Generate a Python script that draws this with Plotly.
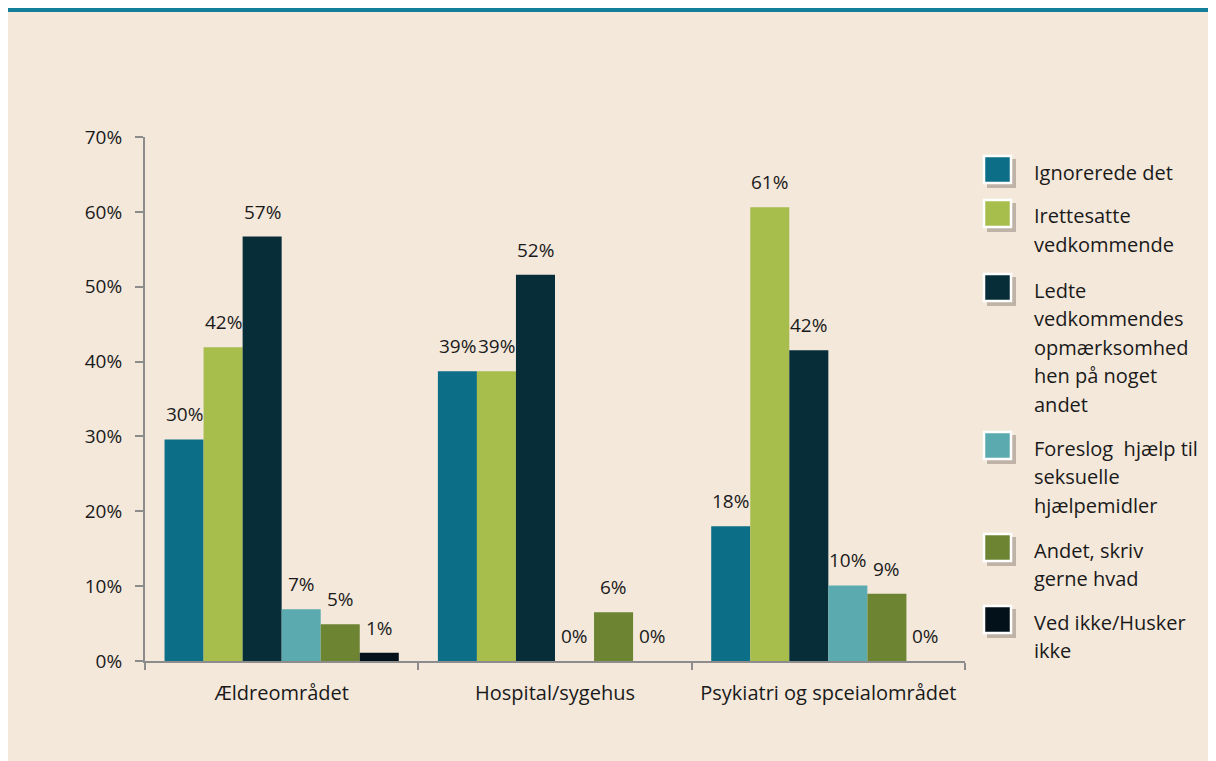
import plotly.graph_objects as go

# data
categories = ["Ældreområdet", "Hospital/sygehus", "Psykiatri og spceialområdet"]
series_names = [
    "Ignorerede det",
    "Irettesatte vedkommende",
    "Ledte vedkommendes opmærksomhed hen på noget andet",
    "Foreslog  hjælp til seksuelle hjælpemidler",
    "Andet, skriv gerne hvad",
    "Ved ikke/Husker ikke",
]
legend_lines = [
    ["Ignorerede det"],
    ["Irettesatte", "vedkommende"],
    ["Ledte", "vedkommendes", "opmærksomhed", "hen på noget", "andet"],
    ["Foreslog\u00a0 hjælp til", "seksuelle", "hjælpemidler"],
    ["Andet, skriv", "gerne hvad"],
    ["Ved ikke/Husker", "ikke"],
]
ignorerede = [0.296, 0.387, 0.180]
irettesatte = [0.419, 0.387, 0.606]
ledte = [0.567, 0.516, 0.415]
foreslog = [0.069, 0.0, 0.101]
andet = [0.049, 0.065, 0.090]
ved_ikke = [0.011, 0.0, 0.0]
values = [ignorerede, irettesatte, ledte, foreslog, andet, ved_ikke]

colors = ["#0D6E87", "#A7BD4C", "#062D38", "#5BAAB0", "#6D8533", "#03121A"]

# page body has an 8px margin; figure runs to the window edge
OFF = 8
W, H = 1216, 761
L, R, T, B = 145 - OFF, 965 - OFF, 137 - OFF, 661 - OFF
BG = "#F4E8DB"
FONT = "Open Sans"
TXT = "#1A1A1A"
BARGAP = 0.143


def px(x):
    # reference screen x -> paper
    return (x - OFF - L) / (R - L)


def py(y):
    # reference screen y -> paper
    return (B - (y - OFF)) / (B - T)


fig = go.Figure()
for name, vals, col in zip(series_names, values, colors):
    fig.add_trace(go.Bar(
        x=categories, y=vals, name=name,
        marker=dict(color=col, line=dict(width=0)),
        showlegend=False,
    ))

# data labels above each bar
n = len(values)
w = (1 - BARGAP) / n
annotations = []
for j, vals in enumerate(values):
    for i, v in enumerate(vals):
        annotations.append(dict(
            x=i + (j - (n - 1) / 2) * w, y=v, xref="x", yref="y",
            text=f"{round(v * 100):.0f}%", showarrow=False,
            yanchor="middle", yshift=25,
            font=dict(family=FONT, size=19, color=TXT),
        ))

# custom legend (squares with white frame and shadow)
shapes = []
tops = [155, 199, 273, 431, 533, 605]
for top, col, lines in zip(tops, colors, legend_lines):
    shapes.append(dict(type="rect", xref="paper", yref="paper",
                       x0=px(987), x1=px(1016), y0=py(top + 4), y1=py(top + 33),
                       fillcolor="rgba(90,80,70,0.35)", line=dict(width=0)))
    shapes.append(dict(type="rect", xref="paper", yref="paper",
                       x0=px(984), x1=px(1011), y0=py(top + 1), y1=py(top + 28),
                       fillcolor=col, line=dict(color="white", width=2.5)))
    for k, line in enumerate(lines):
        annotations.append(dict(
            x=px(1032), y=py(top + 17 + k * 28.5), xref="paper", yref="paper",
            text=line, showarrow=False, xanchor="left", yanchor="middle",
            font=dict(family=FONT, size=20, color=TXT),
        ))

# teal band along the top edge
shapes += [
    dict(type="rect", xref="paper", yref="paper", x0=px(0), x1=px(1240), y0=py(12), y1=py(0),
         fillcolor="#147F9B", line=dict(width=0)),
]

fig.update_layout(
    width=W, height=H,
    margin=dict(l=L, r=W - R, t=T, b=H - B, pad=0),
    paper_bgcolor=BG, plot_bgcolor=BG,
    barmode="group", bargap=BARGAP, bargroupgap=0,
    font=dict(family=FONT, size=19, color=TXT),
    shapes=shapes, annotations=annotations,
    showlegend=False,
)
fig.update_xaxes(
    type="category", showline=True, linecolor="#8C8C8C", linewidth=2,
    ticks="outside", tickson="boundaries", ticklen=7, tickcolor="#8C8C8C", tickwidth=2,
    showgrid=False, ticklabelstandoff=13,
    tickfont=dict(family=FONT, size=20, color=TXT),
)
fig.update_yaxes(
    range=[0, 0.7], dtick=0.1, tickformat=".0%", showline=True, linecolor="#8C8C8C",
    linewidth=2, ticks="outside", ticklen=8, tickcolor="#8C8C8C", tickwidth=2,
    showgrid=False, zeroline=False, ticklabelstandoff=9,
    tickfont=dict(family=FONT, size=19, color=TXT),
)

fig.write_html("out.html")
